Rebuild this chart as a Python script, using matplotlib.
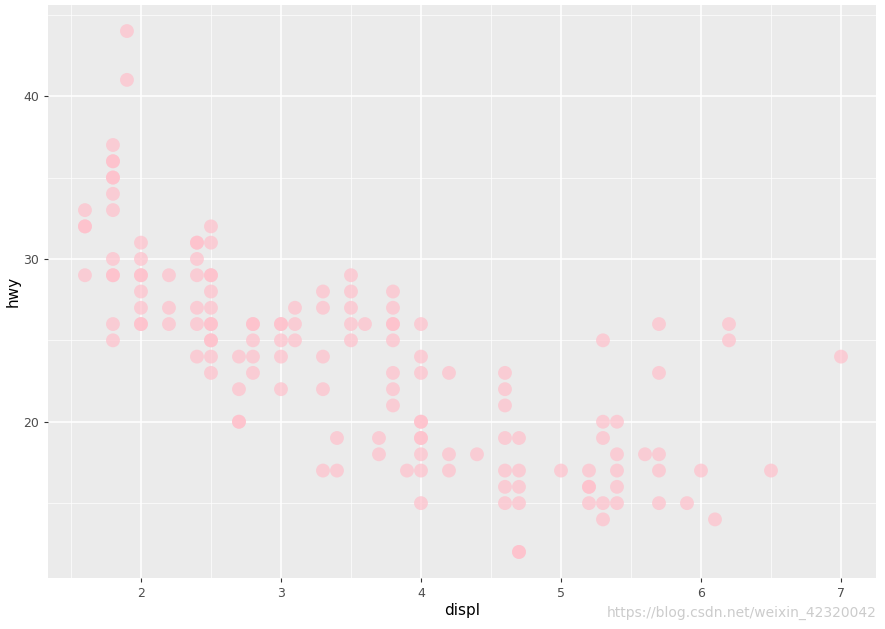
import matplotlib
matplotlib.use("Agg")
import matplotlib.pyplot as plt
from matplotlib.ticker import MultipleLocator

displ_values = [1.6, 1.8, 1.9, 2.0, 2.2, 2.4, 2.5, 2.7, 2.8, 3.0, 3.1, 3.3, 3.4, 3.5, 3.6,
                3.7, 3.8, 3.9, 4.0, 4.2, 4.4, 4.6, 4.7, 5.0, 5.2, 5.3, 5.4, 5.6, 5.7,
                5.9, 6.0, 6.1, 6.2, 6.5, 7.0]
hwy_groups = [
    [33, 32, 32, 29],
    [37, 36, 36, 35, 35, 34, 33, 30, 29, 29, 26, 25],
    [44, 41],
    [31, 30, 29, 29, 28, 27, 26, 26],
    [29, 27, 26],
    [31, 31, 30, 29, 27, 26, 24],
    [32, 31, 29, 29, 28, 27, 26, 26, 25, 25, 24, 23],
    [24, 22, 20, 20],
    [26, 26, 25, 24, 23],
    [26, 26, 25, 24, 22],
    [27, 26, 25],
    [28, 27, 24, 22, 17],
    [19, 17],
    [29, 28, 27, 26, 25],
    [26],
    [19, 18],
    [28, 27, 26, 26, 25, 23, 22, 21],
    [17],
    [26, 24, 23, 20, 20, 19, 19, 18, 17, 15],
    [23, 18, 17],
    [18],
    [23, 22, 21, 19, 17, 16, 15],
    [19, 17, 16, 15, 12, 12],
    [17],
    [17, 16, 16, 15],
    [25, 20, 19, 15, 14],
    [20, 18, 17, 16, 15],
    [18],
    [26, 23, 18, 17, 15],
    [15],
    [17],
    [14],
    [26, 25],
    [17],
    [24],
]
displ = [d for d, g in zip(displ_values, hwy_groups) for _ in g]
hwy = [h for g in hwy_groups for h in g]

fig = plt.figure(figsize=(8.85, 6.29), dpi=100)
ax = fig.add_axes([48/885, 1-578/629, (876-48)/885, (578-5)/629])
ax.set_facecolor("#EBEBEB")
for s in ax.spines.values():
    s.set_visible(False)
ax.scatter(displ, hwy, s=100, color="#FFC0CB", alpha=0.7, edgecolors="none", zorder=3)
ax.set_xlim(1.336, 7.25)
ax.set_ylim(10.4, 45.6)
ax.xaxis.set_major_locator(MultipleLocator(1))
ax.xaxis.set_minor_locator(MultipleLocator(0.5))
ax.yaxis.set_major_locator(MultipleLocator(10))
ax.yaxis.set_minor_locator(MultipleLocator(5))
ax.grid(which="major", color="white", linewidth=1.1, zorder=0)
ax.grid(which="minor", color="white", linewidth=0.5, zorder=0)
ax.set_axisbelow(True)
ax.tick_params(which="major", colors="#333333", labelsize=9, length=3, labelcolor="#4D4D4D")
ax.tick_params(which="minor", length=0)
ax.set_xlabel("displ", fontsize=11, labelpad=2)
ax.set_ylabel("hwy", fontsize=11, labelpad=2)
fig.text(0.99, 0.02, "https://blog.csdn.net/weixin_42320042", ha="right", fontsize=10, color="#CCCCCC")
fig.savefig("out.png", dpi=100)
